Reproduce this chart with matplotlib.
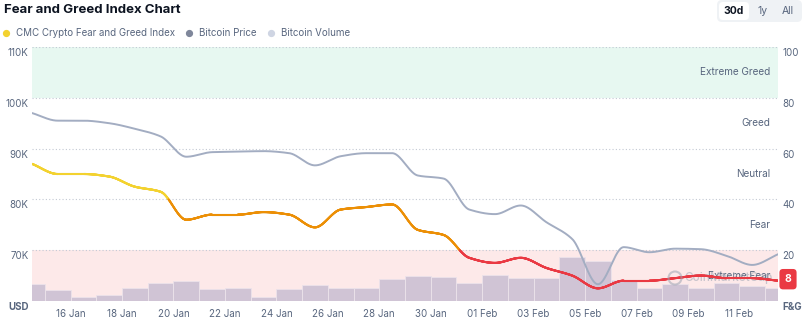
import numpy as np
import matplotlib
matplotlib.use("Agg")
import matplotlib.pyplot as plt
from matplotlib.collections import LineCollection
from matplotlib.patches import FancyBboxPatch, Circle
from matplotlib.lines import Line2D
from matplotlib.transforms import ScaledTranslation, IdentityTransform, blended_transform_factory

plt.rcParams['font.family'] = ['Inter', 'DejaVu Sans']

# ---------------- data ----------------
days = ["14 Jan", "15 Jan", "16 Jan", "17 Jan", "18 Jan", "19 Jan", "20 Jan", "21 Jan",
        "22 Jan", "23 Jan", "24 Jan", "25 Jan", "26 Jan", "27 Jan", "28 Jan", "29 Jan",
        "30 Jan", "31 Jan", "01 Feb", "02 Feb", "03 Feb", "04 Feb", "05 Feb", "06 Feb",
        "07 Feb", "08 Feb", "09 Feb", "10 Feb", "11 Feb", "12 Feb"]
fear_greed = [54, 50, 50, 49, 45, 43, 32, 34, 34, 35, 34, 29, 36, 37, 38, 28, 26, 17,
              15, 17, 13, 10, 5, 8, 8, 9, 10, 9, 9, 8]
btc_price = [97.0, 95.5, 95.5, 95.0, 93.9, 92.4, 88.4, 89.3, 89.4, 89.5, 89.1, 86.7,
             88.5, 89.1, 89.1, 84.7, 84.1, 78.0, 77.1, 78.8, 75.5, 72.2, 63.3, 70.6,
             69.6, 70.3, 70.2, 68.9, 67.1, 69.2]  # thousands USD
btc_volume = [35, 22, 9, 12, 27, 36, 40, 24, 27, 9, 24, 32, 27, 27, 44, 51, 49, 37,
              53, 47, 47, 89, 81, 43, 26, 35, 26, 37, 31, 27]  # billions USD
price_ticks = [60, 70, 80, 90, 100, 110]
price_tick_labels = ["USD", "70K", "80K", "90K", "100K", "110K"]
fg_ticks = [0, 20, 40, 60, 80, 100]
fg_tick_labels = ["F&G", "20", "40", "60", "80", "100"]
zones = [(0, 20, "Extreme Fear"), (20, 40, "Fear"), (40, 60, "Neutral"),
         (60, 80, "Greed"), (80, 100, "Extreme Greed")]
date_tick_idx = [2, 4, 6, 8, 10, 12, 14, 16, 18, 20, 22, 24, 26, 28]
current_value = 8

# ---------------- helpers ----------------
def pchip(x, y, xs):
    x = np.asarray(x, float); y = np.asarray(y, float)
    h = np.diff(x); d = np.diff(y) / h
    m = np.zeros_like(y)
    for k in range(1, len(y) - 1):
        if d[k - 1] * d[k] <= 0:
            m[k] = 0.0
        else:
            w1 = 2 * h[k] + h[k - 1]; w2 = h[k] + 2 * h[k - 1]
            m[k] = (w1 + w2) / (w1 / d[k - 1] + w2 / d[k])
    m[0] = d[0]; m[-1] = d[-1]
    idx = np.clip(np.searchsorted(x, xs) - 1, 0, len(x) - 2)
    t = (xs - x[idx]) / h[idx]
    h00 = 2 * t**3 - 3 * t**2 + 1; h10 = t**3 - 2 * t**2 + t
    h01 = -2 * t**3 + 3 * t**2; h11 = t**3 - t**2
    return h00 * y[idx] + h10 * h[idx] * m[idx] + h01 * y[idx + 1] + h11 * h[idx] * m[idx + 1]

W, H = 808, 328
fig = plt.figure(figsize=(W / 100, H / 100), dpi=100)
fig.patch.set_facecolor("white")

L, R, T, B = 32, 778, 47, 301
pos = [L / W, 1 - B / H, (R - L) / W, (B - T) / H]
ax_bg = fig.add_axes(pos)
ax_vol = fig.add_axes(pos, sharex=ax_bg)
ax_price = fig.add_axes(pos, sharex=ax_bg)
ax_fg = fig.add_axes(pos, sharex=ax_bg)
for a in (ax_vol, ax_price, ax_fg):
    a.patch.set_visible(False)
for a in (ax_bg, ax_vol, ax_price, ax_fg):
    for s in a.spines.values():
        s.set_visible(False)

n = len(days)
x_idx = np.arange(n)
x_pts = x_idx + 0.5
ax_bg.set_xlim(0.5, n - 0.5)

grey_txt = "#58667e"
# bands & grid
ax_bg.set_ylim(0, 100)
ax_bg.axhspan(0, 20, color="#fde9e9", lw=0, zorder=0)
ax_bg.axhspan(80, 100, color="#e7f8f1", lw=0, zorder=0)
for v in fg_ticks:
    ax_bg.axhline(v, color="#c3c9d4", lw=0.8, ls=(0, (1, 2)), zorder=1)
for lo, hi, name in zones:
    ax_bg.text(n - 0.5 - 0.3, (lo + hi) / 2, name, ha="right", va="center",
               fontsize=7.2, color=grey_txt, zorder=2)
ax_bg.set_yticks([])
ax_bg.set_xticks([x_idx[i] for i in date_tick_idx])
ax_bg.set_xticklabels([days[i] for i in date_tick_idx])
ax_bg.tick_params(axis="x", length=0, pad=5.5, labelsize=7, labelcolor=grey_txt)

# volume
ax_vol.set_ylim(0, 508)
ax_vol.bar(x_idx, btc_volume, width=1.0, align="edge", color="#d0c4d5",
           edgecolor="#ece3ea", linewidth=0.6, zorder=2)
ax_vol.set_yticks([]); ax_vol.tick_params(axis="x", which="both", bottom=False, labelbottom=False)

# price
ax_price.set_ylim(60, 110)
xs = np.linspace(0.5, n - 0.5, 3000)
ax_price.plot(xs, pchip(x_pts, btc_price, xs), color="#a3adc2", lw=1.4, zorder=3,
              solid_capstyle="round")
ax_price.set_yticks(price_ticks)
ax_price.set_yticklabels(price_tick_labels)
ax_price.tick_params(axis="y", length=0, pad=2.5, labelsize=7, labelcolor=grey_txt)
ax_price.tick_params(axis="x", which="both", bottom=False, labelbottom=False)
for lab in ax_price.get_yticklabels():
    lab.set_transform(lab.get_transform() + ScaledTranslation(0, -5 / 100, fig.dpi_scale_trans))
ax_price.get_yticklabels()[0].set_fontweight("bold")

# watermark (behind the index line)
ax_fg.text(684 / W, 1 - 278 / H, "CoinMarketCap", transform=fig.transFigure, fontsize=8.5,
           color="#9ea5b3", alpha=0.55, ha="left", va="center", fontweight="medium", zorder=1)
fig.add_artist(Circle((675, H - 278), 6.5, transform=IdentityTransform(), fill=False,
                      ec="#9ea5b3", lw=1.5, alpha=0.55))

# fear & greed line
ax_fg.set_ylim(0, 100)
ys = pchip(x_pts, fear_greed, xs)
pts = np.column_stack([xs, ys]).reshape(-1, 1, 2)
segs = np.concatenate([pts[:-1], pts[1:]], axis=1)
mid = (ys[:-1] + ys[1:]) / 2
cols = np.where(mid >= 40, "#f3d22f", np.where(mid >= 20, "#ec8f05", "#ea3943"))
lc = LineCollection(segs, colors=cols, linewidths=1.5, zorder=4, capstyle="round")
ax_fg.add_collection(lc)
ax_fg.yaxis.tick_right()
ax_fg.set_yticks(fg_ticks)
ax_fg.set_yticklabels(fg_tick_labels)
ax_fg.tick_params(axis="y", length=0, pad=3, labelsize=7, labelcolor=grey_txt)
ax_fg.tick_params(axis="x", which="both", bottom=False, labelbottom=False)
for lab in ax_fg.get_yticklabels():
    lab.set_transform(lab.get_transform() + ScaledTranslation(0, -5 / 100, fig.dpi_scale_trans))
ax_fg.get_yticklabels()[0].set_fontweight("bold")

# current value badge
btr = blended_transform_factory(ax_fg.transAxes, ax_fg.transData)
ax_fg.text(1.0, current_value, str(current_value),
           transform=btr + ScaledTranslation(10 / 100, 1.5 / 100, fig.dpi_scale_trans),
           ha="center", va="center", fontsize=7.5, fontweight="bold", color="white",
           zorder=6, clip_on=False,
           bbox=dict(boxstyle="round,pad=0.5,rounding_size=0.35", fc="#ea3943", ec="none"))

# title & legend
fig.text(4 / W, 1 - 10 / H, "Fear and Greed Index Chart", fontsize=9.5, fontweight="bold",
         color="#0d1421", ha="left", va="center")
legend_items = [(6, "#f3d22f", "CMC Crypto Fear and Greed Index"),
                (189, "#7f879b", "Bitcoin Price"),
                (271, "#cfd5e3", "Bitcoin Volume")]
for x0, c, lab in legend_items:
    fig.add_artist(Line2D([x0 / W], [1 - 33 / H], marker="o", ms=4.2, color=c, mec=c,
                          transform=fig.transFigure))
    fig.text((x0 + 10) / W, 1 - 33 / H, lab, fontsize=7, color=grey_txt, ha="left", va="center")

# range buttons
def px_box(x0, y0, x1, y1, fc, r):
    return FancyBboxPatch((x0, H - y1), x1 - x0, y1 - y0,
                          boxstyle=f"round,pad=0,rounding_size={r}",
                          transform=IdentityTransform(), fc=fc, ec="none")
fig.add_artist(px_box(717, 0, 802, 22, "#eff2f5", 5))
fig.add_artist(px_box(719, 2, 749, 20, "white", 4))
fig.text(734 / W, 1 - 11 / H, "30d", fontsize=7.5, fontweight="bold", color="#0d1421",
         ha="center", va="center")
fig.text(763 / W, 1 - 11 / H, "1y", fontsize=7.5, color=grey_txt, ha="center", va="center")
fig.text(788 / W, 1 - 11 / H, "All", fontsize=7.5, color=grey_txt, ha="center", va="center")

fig.savefig("out.png", dpi=100)
